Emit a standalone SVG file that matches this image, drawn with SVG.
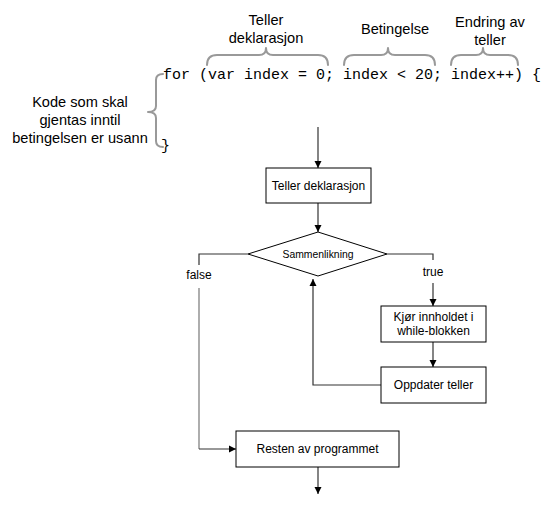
<svg xmlns="http://www.w3.org/2000/svg" width="552" height="507" viewBox="0 0 552 507">
<style>
.lbl{font-family:"Liberation Sans",Arial,sans-serif;font-size:14.6px;fill:#000;text-anchor:middle}
.code{font-family:"Liberation Mono","Courier New",monospace;font-size:15px;fill:#000}
.brace{fill:none;stroke:#999;stroke-width:2;stroke-linecap:round;stroke-linejoin:round}
.box{fill:#fff;stroke:#000;stroke-width:1}
.t{font-family:"Liberation Sans",Arial,sans-serif;font-size:12px;fill:#000;text-anchor:middle}
.conn{fill:none;stroke:#333;stroke-width:1.2}
.connl{fill:none;stroke:#777;stroke-width:1.2}
</style>
<defs>
<marker id="ah" viewBox="0 0 10 10" refX="10" refY="5" markerWidth="7" markerHeight="8" markerUnits="userSpaceOnUse" orient="auto">
<path d="M0,0 L10,5 L0,10 z" fill="#000"/>
</marker>
</defs>
<g id="annotations">
<text class="code" x="163" y="79" xml:space="preserve">for (var index = 0; index &lt; 20; index++) {</text>
<text class="code" x="161" y="150">}</text>
<path class="brace" d="M163,74 Q156,74 156,80 L156,106 Q156,112 148,112 Q156,112 156,118 L156,141 Q156,147 163,147"/>
<path class="brace" d="M207,65 Q207,55 217,55 L259,55 Q266,55 266,48 Q266,55 273,55 L318,55 Q328,55 328,65"/>
<path class="brace" d="M344,65 Q344,55 354,55 L381,55 Q388,55 388,48 Q388,55 395,55 L425,55 Q435,55 435,65"/>
<path class="brace" d="M451,65 Q451,55 461,55 L476,55 Q483,55 483,48 Q483,55 490,55 L508,55 Q518,55 518,65"/>
<text class="lbl" x="266" y="25">Teller</text>
<text class="lbl" x="266" y="43">deklarasjon</text>
<text class="lbl" x="395" y="34">Betingelse</text>
<text class="lbl" x="490" y="27">Endring av</text>
<text class="lbl" x="490" y="45">teller</text>
<text class="lbl" x="80" y="107">Kode som skal</text>
<text class="lbl" x="80" y="125">gjentas inntil</text>
<text class="lbl" x="80" y="143">betingelsen er usann</text>
</g>
<g id="connectors">
<line class="conn" x1="318" y1="127" x2="318" y2="168" marker-end="url(#ah)"/>
<line class="conn" x1="318" y1="203" x2="318" y2="232" marker-end="url(#ah)"/>
<polyline class="conn" points="248,254 199,254 199,265"/>
<polyline class="connl" points="199,288 199,449"/>
<line class="conn" x1="199" y1="449" x2="236" y2="449" marker-end="url(#ah)"/>
<polyline class="conn" points="387,254 433,254 433,260"/>
<line class="conn" x1="433" y1="283" x2="433" y2="306" marker-end="url(#ah)"/>
<line class="conn" x1="433" y1="342" x2="433" y2="367" marker-end="url(#ah)"/>
<polyline class="conn" points="381,385 313,385 313,279" marker-end="url(#ah)"/>
<line class="conn" x1="318" y1="467" x2="318" y2="494" marker-end="url(#ah)"/>
<text class="t" x="199" y="279">false</text>
<text class="t" x="433" y="276">true</text>
</g>
<g id="teller-deklarasjon">
<rect class="box" x="266" y="168" width="105" height="35"/>
<text class="t" x="318.5" y="190">Teller deklarasjon</text>
</g>
<g id="sammenlikning">
<polygon class="box" points="318,232 387,254 318,276 248,254"/>
<text class="t" x="318" y="258" style="font-size:10.4px">Sammenlikning</text>
</g>
<g id="kjor-innholdet">
<rect class="box" x="381" y="306" width="105" height="36"/>
<text class="t" x="433.5" y="321">Kjør innholdet i</text>
<text class="t" x="433.5" y="335">while-blokken</text>
</g>
<g id="oppdater-teller">
<rect class="box" x="381" y="367" width="105" height="36"/>
<text class="t" x="433.5" y="389">Oppdater teller</text>
</g>
<g id="resten">
<rect class="box" x="236" y="431" width="163" height="36"/>
<text class="t" x="317.5" y="453">Resten av programmet</text>
</g>
</svg>
